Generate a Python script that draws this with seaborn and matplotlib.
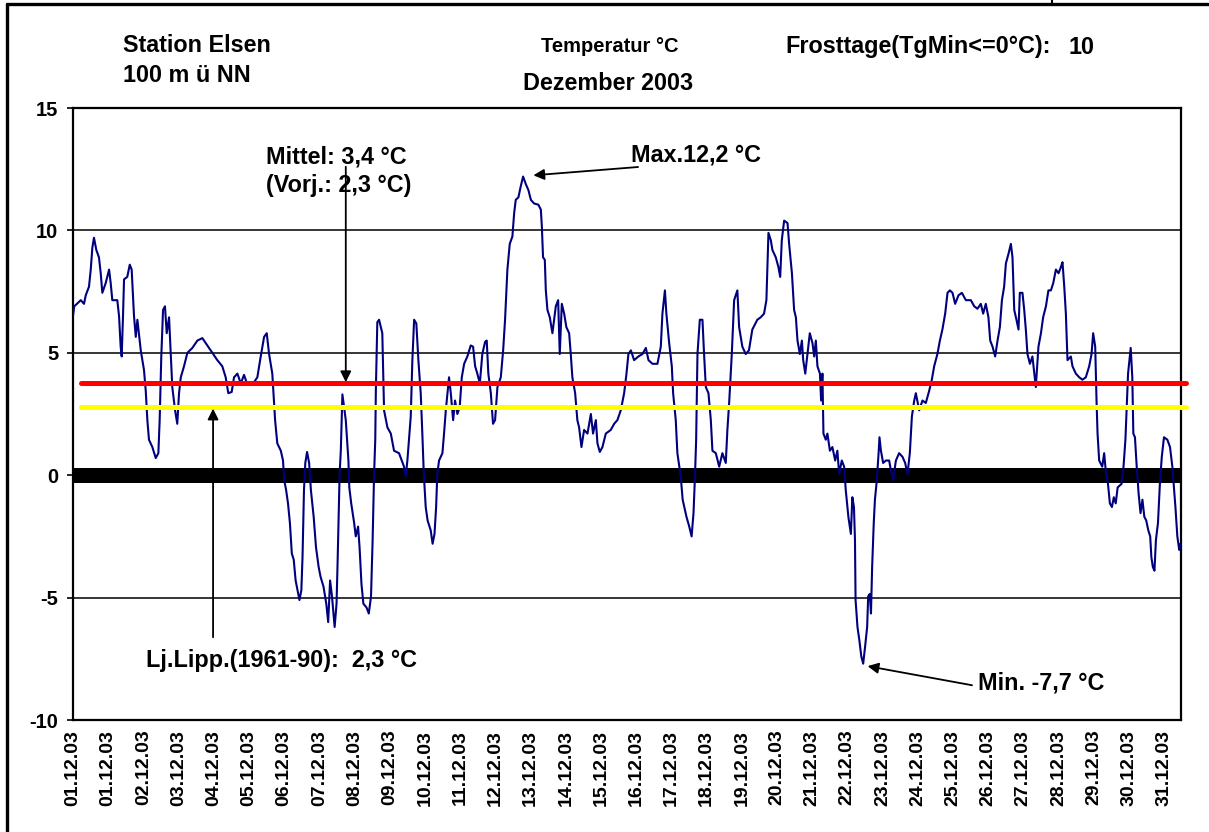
import matplotlib
matplotlib.use("Agg")
import matplotlib.pyplot as plt
import matplotlib.lines as mlines
import pandas as pd
import seaborn as sns

# hours since 01.12.03 00:00, temperature in degC
hours = [0.0, 0.8, 1.8, 5.3, 7.5, 8.7, 10.9, 12.1, 13.2, 14.3, 15.9, 17.7, 18.9, 20.0, 22.3, 24.6, 25.7, 26.8,
         30.2, 31.4, 32.5, 33.2, 34.1, 34.8, 37.0, 38.7, 40.0, 41.6, 42.8, 43.9, 46.2, 48.4, 49.6, 50.7, 51.8,
         54.1, 56.4, 58.2, 59.1, 60.2, 61.4, 62.7, 63.9, 65.5, 66.6, 67.7, 69.6, 71.1, 72.3, 73.5, 75.7, 78.0,
         81.4, 84.8, 88.2, 91.6, 95.0, 98.4, 101.8, 104.1, 105.9, 108.2, 109.8, 112.1, 114.4, 116.6, 118.9,
         122.3, 125.7, 128.0, 130.3, 132.1, 133.7, 135.9, 137.8, 139.3, 141.7, 143.2, 144.0, 145.3, 146.6,
         147.9, 149.2, 150.5, 151.8, 153.1, 154.4, 155.7, 156.5, 157.5, 158.4, 159.6, 161.0, 162.2, 164.1,
         165.7, 167.5, 168.8, 170.8, 172.7, 174.0, 175.3, 176.6, 178.4, 179.7, 180.5, 181.8, 182.6, 183.7,
         186.0, 187.8, 188.4, 189.7, 191.7, 192.8, 194.4, 195.4, 196.7, 198.0, 200.1, 201.7, 203.2, 204.3,
         205.3, 206.1, 206.5, 207.5, 208.7, 210.9, 212.1, 214.4, 216.7, 218.9, 222.3, 225.7, 226.9, 228.0,
         230.3, 231.4, 232.6, 234.1, 235.5, 237.1, 238.2, 239.2, 240.5, 241.8, 243.9, 245.2, 246.5, 247.6,
         248.4, 249.6, 251.9, 253.0, 254.2, 256.4, 257.6, 259.2, 260.5, 262.1, 263.7, 265.1, 266.7, 268.9,
         271.2, 272.8, 274.2, 275.7, 277.4, 279.1, 281.0, 282.1, 283.2, 284.9, 286.4, 287.8, 289.4, 291.7,
         293.3, 294.6, 296.2, 297.8, 299.6, 300.8, 301.9, 303.7, 305.3, 306.9, 308.7, 310.5, 312.2, 314.4,
         317.3, 319.0, 319.7, 320.5, 321.7, 322.4, 323.5, 325.1, 326.9, 329.2, 330.8, 331.9, 333.3, 334.9,
         336.4, 338.3, 339.4, 340.5, 342.4, 343.9, 345.1, 346.7, 348.5, 350.8, 353.1, 354.6, 356.5, 357.6,
         359.2, 361.0, 363.3, 366.7, 369.0, 371.2, 373.5, 375.8, 377.4, 378.7, 380.4, 382.6, 385.5, 388.3,
         390.6, 392.4, 395.1, 398.5, 400.8, 401.9, 403.6, 404.6, 406.5, 408.3, 409.2, 411.0, 412.1, 414.4,
         415.7, 418.3, 420.2, 421.8, 423.1, 424.1, 424.9, 425.8, 427.4, 429.2, 430.3, 431.5, 433.3, 434.9,
         436.0, 438.3, 440.6, 442.8, 445.1, 446.2, 447.4, 449.2, 450.8, 453.0, 454.2, 456.4, 458.7, 460.9,
         463.2, 466.6, 468.9, 471.2, 472.8, 474.2, 475.8, 476.9, 479.2, 481.0, 482.2, 483.3, 484.9, 487.2,
         488.3, 490.2, 491.0, 491.7, 492.9, 494.0, 495.6, 497.0, 497.9, 499.3, 500.8, 502.4, 504.2, 505.4,
         506.5, 507.6, 509.3, 510.1, 511.0, 511.7, 513.3, 514.4, 516.1, 517.8, 519.7, 521.2, 522.4, 524.2,
         525.8, 526.9, 528.7, 530.4, 531.4, 532.5, 533.2, 533.6, 534.9, 536.2, 537.5, 538.8, 540.1, 541.5,
         542.2, 543.3, 544.1, 544.9, 546.0, 546.8, 548.1, 549.4, 549.9, 550.9, 552.4, 554.3, 556.5, 557.7,
         559.2, 561.1, 563.3, 565.6, 567.4, 569.0, 570.6, 572.0, 573.6, 574.7, 577.0, 579.2, 581.5, 583.8,
         585.6, 587.2, 589.4, 591.1, 592.8, 594.7, 596.3, 597.9, 599.7, 601.5, 603.8, 606.1, 608.8, 612.2,
         614.5, 616.7, 619.0, 620.6, 622.4, 624.2, 625.4, 627.0, 628.8, 630.4, 632.0, 633.4, 634.9, 636.1,
         637.9, 639.5, 640.6, 641.8, 643.3, 644.7, 645.6, 647.4, 648.6, 649.7, 650.8, 652.5, 654.2, 656.5,
         658.3, 660.0, 661.5, 663.4, 665.1, 666.8, 668.4, 670.2, 672.0, 673.6, 674.7, 675.9, 677.0, 678.1,
         680.4, 681.5, 683.8, 686.1, 688.3, 690.6, 692.9, 694.5, 695.6, 697.0, 697.9, 698.6, 699.7, 701.8,
         703.1, 704.4, 705.7, 707.0, 708.4, 709.7, 711.0, 712.3, 715.0, 716.3, 717.6, 719.4, 721.2, 722.3,
         723.0, 724.1, 725.3, 726.6, 727.9, 729.2, 730.5, 731.8, 733.2, 734.5, 735.3, 736.3, 737.4, 738.4,
         739.8, 741.1, 742.4, 743.9, 746.2, 748.0, 749.6, 751.7, 753.0, 754.3, 755.1]
temps = [6.5, 6.9, 6.95, 7.15, 7.0, 7.35, 7.7, 8.4, 9.3, 9.7, 9.2, 8.9, 8.25, 7.45, 7.85, 8.4, 7.85, 7.15,
         7.15, 6.5, 5.25, 4.85, 6.5, 8.0, 8.1, 8.6, 8.4, 6.5, 5.65, 6.35, 5.1, 4.3, 3.45, 2.25, 1.45,
         1.15, 0.7, 0.9, 2.25, 4.85, 6.75, 6.9, 5.8, 6.45, 5.0, 3.6, 2.65, 2.1, 3.35, 4.0, 4.45, 5.0,
         5.2, 5.5, 5.6, 5.3, 5.0, 4.7, 4.45, 4.0, 3.35, 3.4, 4.0, 4.15, 3.75, 4.1, 3.7,
         3.7, 4.0, 4.85, 5.65, 5.8, 4.95, 4.15, 2.25, 1.3, 1.0, 0.6, -0.2, -0.6, -1.15,
         -1.95, -3.2, -3.45, -4.3, -4.7, -5.1, -4.7, -3.35, -0.6, 0.5, 0.95, 0.5, -0.6, -1.7,
         -2.95, -3.75, -4.15, -4.55, -5.25, -6.0, -4.3, -4.95, -6.2, -5.25, -3.35, 0.05, 1.0, 3.3,
         2.25, 0.6, -0.5, -1.15, -1.95, -2.5, -2.1, -2.95, -4.45, -5.25, -5.4, -5.65, -4.95, -2.65,
         0.05, 1.45, 3.45, 6.25, 6.35, 5.8, 2.65, 1.95, 1.7, 1.0, 0.9, 0.35, -0.05, 0.6,
         2.4, 4.7, 6.35, 6.2, 4.7, 3.35, 1.7, 0.05, -1.3, -1.85, -2.25, -2.8, -2.4, -1.3,
         0.05, 0.6, 0.9, 1.7, 2.65, 4.0, 3.35, 2.25, 3.05, 2.5, 2.8, 4.0, 4.55, 4.85,
         5.3, 5.25, 4.45, 4.15, 3.75, 4.95, 5.45, 5.5, 4.15, 3.35, 2.1, 2.25, 3.6, 4.0,
         5.1, 6.35, 8.4, 9.45, 9.75, 10.7, 11.25, 11.35, 11.8, 12.2, 11.9, 11.65, 11.25, 11.1,
         11.05, 10.85, 10.15, 8.9, 8.8, 7.55, 6.75, 6.45, 5.8, 6.9, 7.15, 4.95, 7.0, 6.6,
         6.05, 5.8, 4.95, 4.0, 3.35, 2.25, 1.95, 1.15, 1.85, 1.7, 2.5, 1.7, 2.25, 1.3,
         0.95, 1.15, 1.7, 1.85, 2.1, 2.25, 2.65, 3.35, 4.15, 4.95, 5.1, 4.7, 4.85, 4.95,
         5.2, 4.7, 4.55, 4.55, 5.25, 6.6, 7.55, 6.6, 5.4, 4.45, 3.35, 2.25, 0.9, -0.05,
         -1.0, -1.7, -2.1, -2.5, -1.55, -0.05, 1.45, 4.95, 6.35, 6.35, 4.95, 3.6, 3.35, 2.25,
         1.0, 0.9, 0.35, 0.9, 0.5, 1.85, 2.95, 4.95, 7.15, 7.55, 6.05, 5.25, 4.95, 5.1,
         5.95, 6.35, 6.45, 6.6, 7.15, 9.9, 9.6, 9.2, 8.9, 8.5, 8.1, 9.6, 10.4, 10.3,
         9.45, 8.25, 7.45, 6.75, 6.45, 5.5, 4.95, 5.5, 4.7, 4.15, 4.95, 5.8, 5.4, 4.85,
         5.5, 4.45, 4.15, 3.05, 4.15, 1.7, 1.45, 1.7, 1.0, 1.15, 0.6, 1.0, 0.05, 0.6,
         0.35, -0.6, -1.7, -2.4, -0.9, -1.3, -2.65, -5.1, -6.2, -6.75, -7.4, -7.7, -7.0, -6.2,
         -4.95, -4.85, -5.65, -3.75, -1.95, -1.0, -0.2, 1.0, 1.55, 1.0, 0.5, 0.6, 0.6, 0.2,
         -0.2, 0.6, 0.9, 0.75, 0.5, 0.05, 0.9, 2.4, 3.05, 3.35, 2.65, 3.05, 2.95, 3.45,
         3.9, 4.45, 4.95, 5.5, 5.95, 6.6, 7.45, 7.55, 7.45, 7.0, 7.35, 7.45, 7.15, 7.15,
         6.9, 6.8, 7.0, 6.6, 7.0, 6.45, 5.5, 5.25, 4.85, 5.5, 6.05, 7.15, 7.7, 8.65,
         9.05, 9.45, 8.9, 6.75, 6.35, 5.95, 7.45, 7.45, 6.75, 5.95, 4.95, 4.55, 4.85, 3.6,
         5.25, 5.8, 6.45, 6.9, 7.55, 7.55, 7.85, 8.4, 8.25, 8.5, 8.7, 7.7, 6.6, 4.7,
         4.85, 4.45, 4.15, 4.0, 3.9, 4.0, 4.45, 4.95, 5.8, 5.25, 3.05, 1.7, 0.6, 0.35,
         0.9, 0.05, -0.35, -1.15, -1.3, -0.9, -1.15, -0.5, -0.35, 0.35, 1.45, 4.15, 5.2, 4.0,
         1.7, 1.55, 0.35, -0.75, -1.55, -1.0, -1.7, -1.85, -2.25, -2.5, -3.35, -3.75, -3.9, -2.65,
         -1.95, -0.35, 0.75, 1.55, 1.45, 1.15, 0.35, -1.3, -2.5, -3.05, -2.8]

tick_hours = list(range(0, 745, 24))
tick_labels = ["01.12.03"] + ["%02d.12.03" % d for d in range(1, 32)]
y_ticks = [-10, -5, 0, 5, 10, 15]
grid_levels = [-5, 5, 10]

mittel_level = 3.75   # red line
lj_level = 2.8        # yellow line
ref_span = [5.5, 759]  # hours covered by the two reference lines

df = pd.DataFrame({"hour": hours, "temp": temps})

sns.set_style("white")
plt.rcParams["font.family"] = ["Liberation Sans", "DejaVu Sans"]
plt.rcParams["font.weight"] = "bold"
plt.rcParams["text.color"] = "black"
plt.rcParams["xtick.color"] = "black"
plt.rcParams["ytick.color"] = "black"

fig = plt.figure(figsize=(12.09, 8.32), dpi=100)
ax = fig.add_axes([73 / 1209, 1 - 720 / 832, (1181 - 73) / 1209, (720 - 108) / 832])

for g in grid_levels:
    ax.axhline(g, color="black", lw=1.1, zorder=1)
ax.axhline(0, color="black", lw=10.8, zorder=1)

sns.lineplot(data=df, x="hour", y="temp", color="#00007F", linewidth=1.5,
             estimator=None, ax=ax, zorder=3)

ax.plot(ref_span, [mittel_level, mittel_level], color="#FF0000", lw=3.6, clip_on=False, zorder=4)
ax.plot(ref_span, [lj_level, lj_level], color="#FFFF00", lw=3.6, clip_on=False, zorder=4)

ax.set_xlim(0, 755.5)
ax.set_ylim(-10, 15)
ax.set_xticks(tick_hours)
ax.set_xticklabels(tick_labels, rotation=90, fontsize=14, fontweight="bold", color="black")
ax.set_yticks(y_ticks)
ax.set_yticklabels([str(v) for v in y_ticks], fontsize=14.5, fontweight="bold", color="black")
ax.tick_params(axis="x", length=0, pad=7)
ax.tick_params(axis="y", length=4.5, width=1.2, pad=6, direction="out", left=True)
ax.set_xlabel("")
ax.set_ylabel("")
for s in ax.spines.values():
    s.set_color("black")
    s.set_linewidth(1.6)

fs = 16.8
arrow = dict(arrowstyle="-|>", color="black", lw=1.3, mutation_scale=16, shrinkA=0, shrinkB=0)

# mean annotation
ax.annotate("", xy=(186.0, mittel_level + 0.05), xytext=(186.0, 12.6), arrowprops=arrow, zorder=5)
ax.text(131.5, 12.42, "Mittel: 3,4 °C\n(Vorj.: 2,3 °C)", fontsize=fs, fontweight="bold",
        va="center", ha="left", linespacing=1.3, zorder=6)

# long-term mean annotation
ax.annotate("", xy=(95.5, lj_level - 0.08), xytext=(95.5, -6.62), arrowprops=arrow, zorder=5)
ax.text(50, -7.56, "Lj.Lipp.(1961-90):  2,3 °C", fontsize=fs, fontweight="bold", va="center", ha="left")

# max / min
i_max = temps.index(max(temps))
i_min = temps.index(min(temps))
ax.annotate("", xy=(hours[i_max] + 7, temps[i_max] + 0.05), xytext=(385.3, 12.59), arrowprops=arrow)
ax.text(380.6, 13.08, "Max.12,2 °C", fontsize=fs, fontweight="bold", va="center", ha="left")
ax.annotate("", xy=(hours[i_min] + 3, temps[i_min] - 0.1), xytext=(613, -8.58), arrowprops=arrow)
ax.text(617, -8.5, "Min. -7,7 °C", fontsize=fs, fontweight="bold", va="center", ha="left")

# header texts
W, H = 1209, 832
def ftxt(x, y, s, size=fs, ha="left"):
    fig.text(x / W, 1 - y / H, s, fontsize=size, fontweight="bold", ha=ha, va="center")

ftxt(123, 46, "Station Elsen")
ftxt(123, 75, "100 m ü NN")
ftxt(610, 47, "Temperatur °C", size=14.5, ha="center")
ftxt(608, 84, "Dezember 2003", ha="center")
ftxt(785, 47, "Frosttage(TgMin<=0°C):")
ftxt(1068, 47, "10")

# outer frame
fig.add_artist(mlines.Line2D([7 / W, 7 / W], [0, 1 - 4 / H], color="black", lw=2.4))
fig.add_artist(mlines.Line2D([7 / W, 1], [1 - 4 / H, 1 - 4 / H], color="black", lw=2.4))
fig.add_artist(mlines.Line2D([1052 / W, 1052 / W], [1 - 4 / H, 1], color="black", lw=1.5))

fig.savefig("out.png", dpi=100)
